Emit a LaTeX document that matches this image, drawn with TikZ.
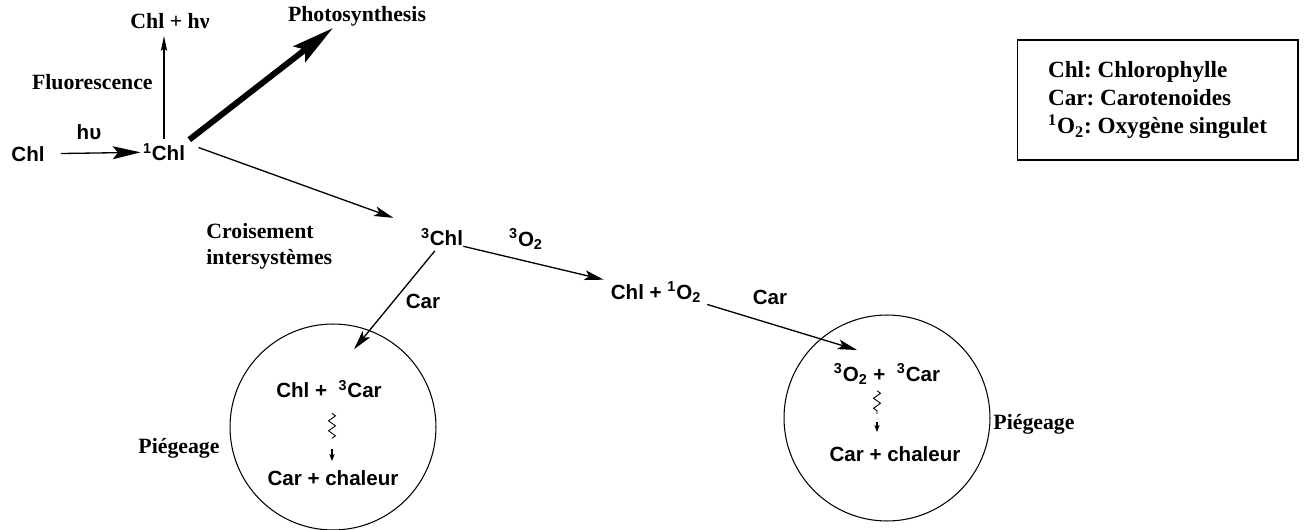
\documentclass[tikz,border=0pt]{standalone}
\usepackage{fontspec}
\setmainfont{Liberation Serif}
\setsansfont{Liberation Sans}
\usetikzlibrary{arrows.meta,positioning,decorations.pathmorphing}
\frenchspacing

\tikzset{
  chem/.style={font=\sffamily\bfseries\fontsize{11.7}{14}\selectfont, inner sep=0pt},
  note/.style={font=\bfseries\fontsize{12.4}{15}\selectfont, inner sep=0pt},
  flow/.style={line width=0.75pt, -{Stealth[length=11pt,width=5.6pt,inset=2.5pt]}},
  pool/.style={circle, draw, line width=0.6pt, minimum size=4.12cm, inner sep=0pt},
  relax/.style={line width=0.5pt, decorate, decoration={zigzag, segment length=0.2cm, amplitude=0.07cm}},
  blip/.style={line width=0.6pt, -{Stealth[length=4pt,width=3pt,inset=1pt]}},
}

\begin{document}
\begin{tikzpicture}[x=0.02cm, y=-0.02cm]
  \useasboundingbox (0,0) rectangle (1306,530);

  % excitation and the three ways out of the singlet state
  \node[chem] (chl) at (28,154) {Chl};
  \node[chem] (hnu) at (89,132) {hυ};
  \node[chem] (chlS) at (164,152) {\textsuperscript{1}Chl};
  \node[note] (emit) at (170,21) {Chl + hν};
  \node[note, anchor=east] (fluo) at (153,82) {Fluorescence};
  \node[note] (photo) at (357,16) {Photosynthesis};
  \coordinate (photoIn) at (333,28);

  \draw[line width=0.75pt, -{Stealth[length=15.9pt,width=7.4pt,inset=3pt]},
        shorten <=0.32cm, shorten >=0.04cm] (chl) -- (chlS);
  \draw[line width=0.75pt, -{Stealth[length=8.5pt,width=3.6pt,inset=1.5pt]},
        shorten <=0.08cm, shorten >=0.14cm] (chlS.north) -- (chlS.north |- emit.south);
  \draw[line width=3.4pt, -{Stealth[length=24pt,width=11pt,inset=4pt]},
        shorten <=0.1cm] (chlS.north east) -- (photoIn);

  % triplet state and singlet oxygen
  \node[chem] (chlT) at (442,237) {\textsuperscript{3}Chl};
  \node[note, align=left, anchor=west] (isc) at (206,246) {Croisement\\intersystèmes};
  \node[chem] (oxT) at (526,239) {\textsuperscript{3}O\textsubscript{2}};
  \node[chem] (oxS) at (656,292) {Chl + \textsuperscript{1}O\textsubscript{2}};
  \node[chem] (carA) at (423,301) {Car};
  \node[chem] (carB) at (770,297) {Car};

  \draw[flow, shorten <=0.28cm, shorten >=0.58cm] (chlS.north east) -- (chlT.north west);
  \draw[flow, shorten >=0.14cm] (chlT.south east) -- (oxS.north west);

  % quenching by the carotenoids
  \node[pool] (poolA) at (333,427) {};
  \node[pool] (poolB) at (887,418) {};
  \node[chem] (trapA) at (329,389) {Chl + \ \textsuperscript{3}Car};
  \node[chem] (heatA) at (333,478) {Car + chaleur};
  \node[chem] (trapB) at (887,374) {\textsuperscript{3}O\textsubscript{2} + \ \textsuperscript{3}Car};
  \node[chem] (heatB) at (895,454) {Car + chaleur};
  \node[note] (pigA) at (179,448) {Piégeage};
  \node[note] (pigB) at (1034,424) {Piégeage};
  \coordinate (gateB) at (857,350);

  \draw[flow, shorten <=0.12cm, shorten >=0.79cm] (chlT.250) -- (trapA.north);
  \draw[flow, shorten <=0.12cm] (oxS.south east) -- (gateB);

  \draw[relax] (trapA.south) ++(3,15) -- ++(0,25);
  \draw[blip] (heatA.north) ++(-1,-21) -- ++(0,12);
  \draw[relax] (trapB.south) ++(-10,6) -- ++(0,23);
  \draw[blip] (heatB.north) ++(-18,-24) -- ++(0,10);

  % key
  \node[draw, line width=0.6pt, minimum width=5.62cm, minimum height=2.4cm, align=left,
        font=\bfseries\fontsize{13.2}{16}\selectfont] (key) at (1157.5,100)
    {Chl: Chlorophylle\\Car: Carotenoides\\\textsuperscript{1}O\textsubscript{2}: Oxygène singulet};
\end{tikzpicture}
\end{document}
